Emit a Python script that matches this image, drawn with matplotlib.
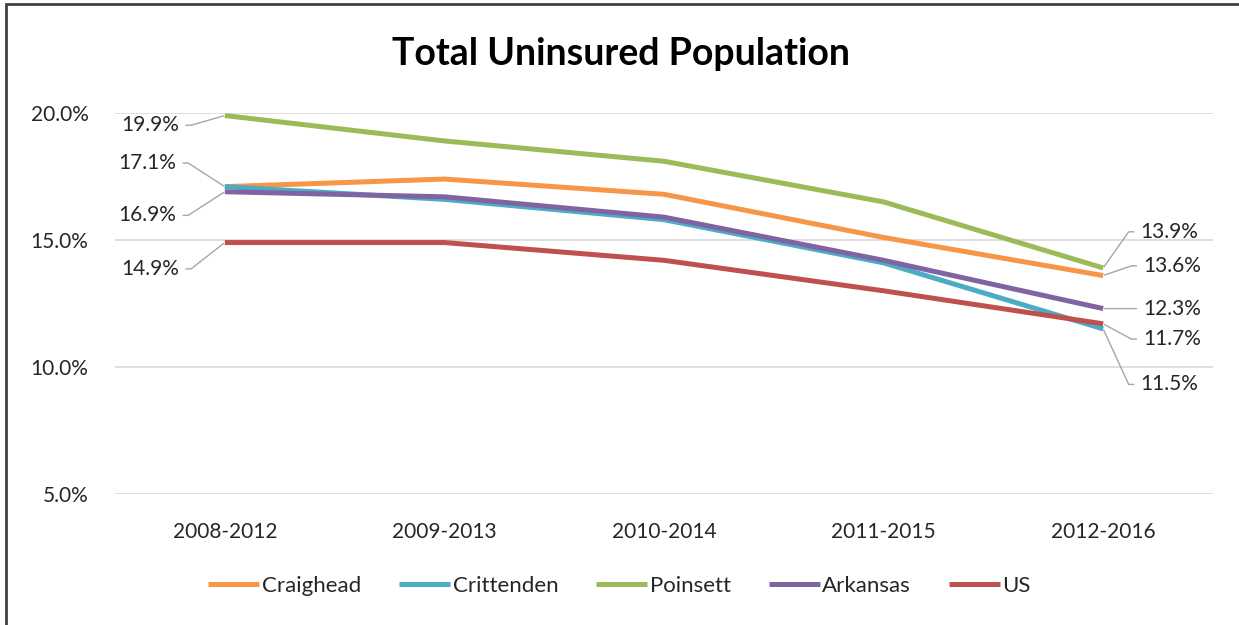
import matplotlib
matplotlib.use("Agg")
import matplotlib.pyplot as plt
from matplotlib.patches import Rectangle

plt.rcParams['font.family'] = ['Lato', 'DejaVu Sans']

periods = ["2008-2012", "2009-2013", "2010-2014", "2011-2015", "2012-2016"]
craighead = [17.1, 17.4, 16.8, 15.1, 13.6]
crittenden = [17.1, 16.6, 15.8, 14.1, 11.5]
poinsett = [19.9, 18.9, 18.1, 16.5, 13.9]
arkansas = [16.9, 16.7, 15.9, 14.2, 12.3]
us = [14.9, 14.9, 14.2, 13.0, 11.7]

series = [("Craighead", craighead, "#F79646"),
          ("Crittenden", crittenden, "#4BACC6"),
          ("Poinsett", poinsett, "#9BBB59"),
          ("Arkansas", arkansas, "#8064A2"),
          ("US", us, "#C0504D")]

fig = plt.figure(figsize=(12.39, 6.25), dpi=100)
ax = fig.add_axes([115/1239, (625-494)/625, (1213-115)/1239, (494-113)/625])

x = list(range(len(periods)))
for name, vals, col in series:
    ax.plot(x, vals, color=col, lw=3.6, label=name, solid_capstyle='butt', solid_joinstyle='round')

ax.set_xlim(-0.5, len(periods) - 0.5)
ax.set_ylim(5, 20)
ax.set_yticks([5, 10, 15, 20])
ax.set_yticklabels(["5.0%", "10.0%", "15.0%", "20.0%"])
ax.set_xticks(x)
ax.set_xticklabels(periods)
ax.grid(axis='y', color='#d9d9d9', lw=1.2)
ax.set_axisbelow(True)
for s in ax.spines.values():
    s.set_visible(False)
ax.tick_params(axis='both', length=0, labelsize=15, colors='#404040', labelcolor='#262626')
ax.tick_params(axis='y', pad=19)
ax.tick_params(axis='x', pad=20)

# data labels with leader lines (text offsets in points)
lead_col = '#a6a6a6'
def label(xi, val, dx, dy, side):
    if side == 'left':
        ha, relpos, angA = 'right', (1, 0.5), 0
    else:
        ha, relpos, angA = 'left', (0, 0.5), 180
    ax.annotate(f"{val:.1f}%", xy=(xi, val), xytext=(dx, dy), textcoords='offset points',
                ha=ha, va='center', fontsize=15, color='#262626',
                arrowprops=dict(arrowstyle='-', color=lead_col, lw=1.0, relpos=relpos,
                                shrinkA=3, shrinkB=1,
                                connectionstyle=f"arc,angleA={angA},armA=12,angleB=0,armB=0,rad=0"))

label(0, poinsett[0], -33, -7, 'left')
label(0, crittenden[0], -35, 17, 'left')
label(0, arkansas[0], -35, -17, 'left')
label(0, us[0], -33, -19, 'left')
label(4, poinsett[-1], 27, 26, 'right')
label(4, craighead[-1], 29, 7, 'right')
label(4, arkansas[-1], 29, 0, 'right')
label(4, us[-1], 29, -11, 'right')
label(4, crittenden[-1], 27, -40, 'right')

fig.text(0.501, 0.913, "Total Uninsured Population", ha='center', va='center',
         fontsize=27, fontweight='bold', color='black')

leg = fig.legend(loc='center', bbox_to_anchor=(0.50, 0.063), ncol=5, frameon=False,
                 fontsize=16, handlelength=2.3, columnspacing=1.7, handletextpad=0.12)
for t in leg.get_texts():
    t.set_color('#262626')

fig.patches.append(Rectangle((6/1239, -0.1), 1.2, (625-4)/625 + 0.1, transform=fig.transFigure,
                             fill=False, edgecolor='#404040', lw=2))

fig.savefig("out.png", dpi=100)
